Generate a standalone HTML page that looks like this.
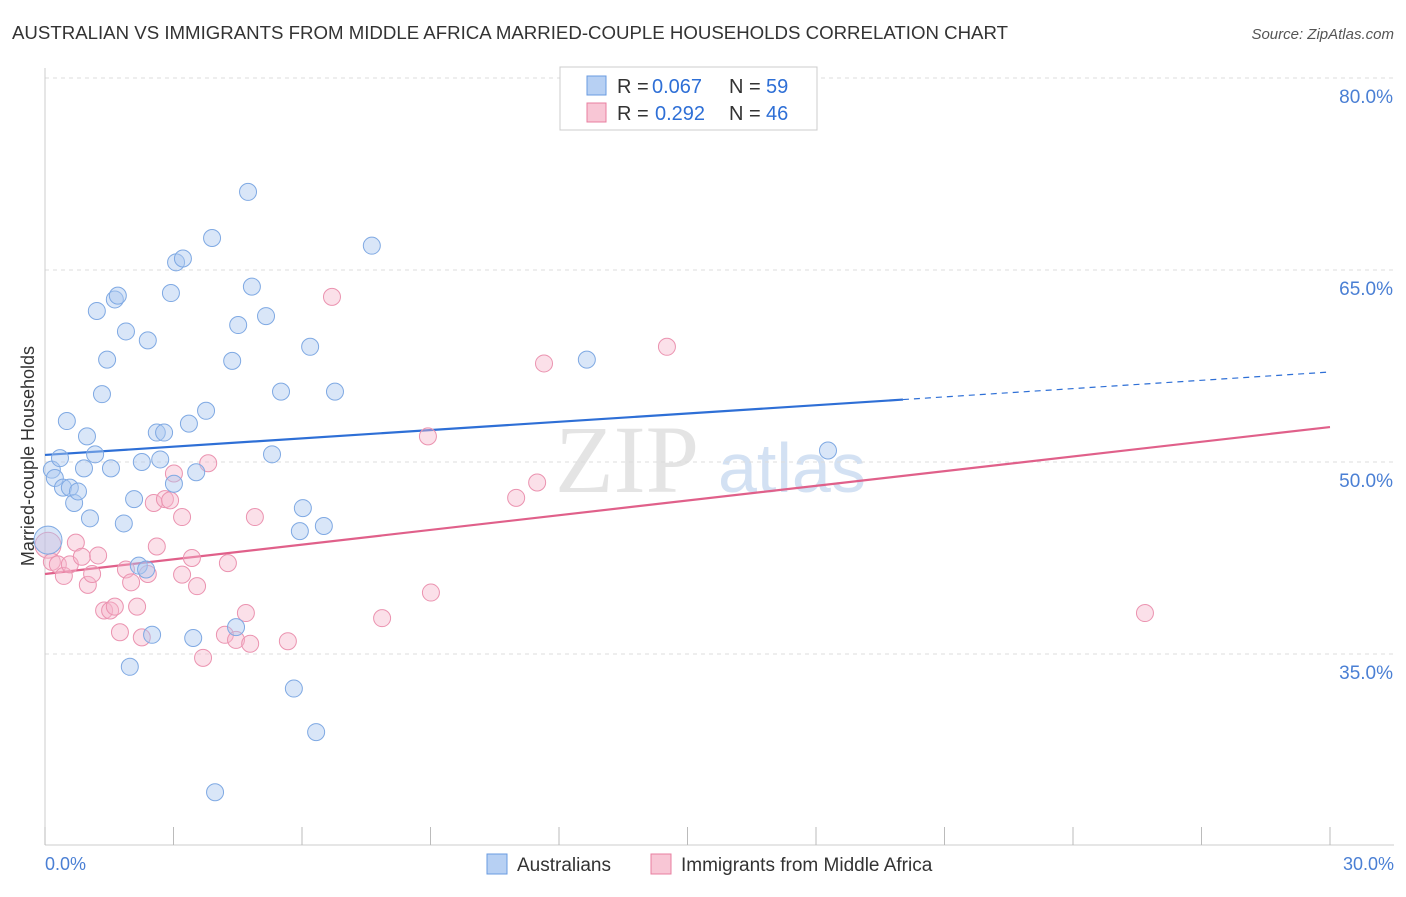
<!DOCTYPE html>
<html><head><meta charset="utf-8"><style>
body{margin:0;background:#fff;font-family:"Liberation Sans",sans-serif}
</style></head><body>
<svg width="1406" height="892" xmlns="http://www.w3.org/2000/svg" style="font-family:'Liberation Sans',sans-serif">
<text x="12" y="39" font-size="18" fill="#333" textLength="996" lengthAdjust="spacingAndGlyphs">AUSTRALIAN VS IMMIGRANTS FROM MIDDLE AFRICA MARRIED-COUPLE HOUSEHOLDS CORRELATION CHART</text>
<text x="1394" y="39" font-size="15" fill="#555" text-anchor="end" font-style="italic">Source: ZipAtlas.com</text>
<g><text x="555" y="492" font-size="96" fill="#e4e4e4" font-family="Liberation Serif">ZIP</text><text x="718" y="492" font-size="70" fill="#d3e1f3">atlas</text></g>
<g id="grid"></g>
<line x1="45" y1="68" x2="45" y2="845" stroke="#ccc"/>
<line x1="45" y1="845" x2="1394" y2="845" stroke="#ccc"/>
<g id="ticks"></g>
<text x="34" y="456" font-size="18" fill="#333" text-anchor="middle" transform="rotate(-90 34 456)">Married-couple Households</text>
<text x="45" y="870" font-size="18" fill="#4a7fd4">0.0%</text>
<text x="1394" y="870" font-size="18" fill="#4a7fd4" text-anchor="end">30.0%</text>
<g id="lines"></g>
<g id="pts"></g>
<g>
<rect x="560" y="67" width="257" height="63" fill="#fff" stroke="#ccc"/>
<rect x="587" y="76" width="19" height="19" fill="#b7d0f3" stroke="#6a9be0"/>
<text x="617" y="93" font-size="20" fill="#333">R =</text><text x="652" y="93" font-size="20" fill="#2e6fd6">0.067</text>
<text x="729" y="93" font-size="20" fill="#333">N =</text><text x="766" y="93" font-size="20" fill="#2e6fd6">59</text>
<rect x="587" y="103" width="19" height="19" fill="#f8c6d5" stroke="#e87fa0"/>
<text x="617" y="120" font-size="20" fill="#333">R =</text><text x="655" y="120" font-size="20" fill="#2e6fd6">0.292</text>
<text x="729" y="120" font-size="20" fill="#333">N =</text><text x="766" y="120" font-size="20" fill="#2e6fd6">46</text>
</g>
<g>
<rect x="487" y="854" width="20" height="20" fill="#b7d0f3" stroke="#6a9be0"/>
<text x="517" y="871" font-size="19" fill="#333">Australians</text>
<rect x="651" y="854" width="20" height="20" fill="#f8c6d5" stroke="#e87fa0"/>
<text x="681" y="871" font-size="19" fill="#333">Immigrants from Middle Africa</text>
</g>
</svg>
<script>
const yTicks=[80,65,50,35];
const xTickVals=[0,3,6,9,12,15,18,21,24,27,30];
const blueX=[0.07,0.16,0.23,0.35,0.42,0.51,0.58,0.68,0.77,0.91,0.98,1.05,1.17,1.21,1.33,1.45,1.54,1.63,1.70,1.84,1.89,1.98,2.08,2.19,2.26,2.36,2.40,2.50,2.61,2.69,2.78,2.94,3.01,3.06,3.22,3.36,3.46,3.53,3.76,3.90,3.97,4.37,4.46,4.51,4.74,4.83,5.16,5.30,5.51,5.81,5.95,6.02,6.19,6.33,6.51,6.77,7.63,12.65,18.28];
const blueY=[43.9,49.4,48.75,50.3,48.0,53.2,48.0,46.8,47.7,49.5,52.0,45.6,50.6,61.8,55.3,58.0,49.5,62.7,63.0,45.2,60.2,34.0,47.1,41.9,50.0,41.6,59.5,36.5,52.3,50.2,52.3,63.2,48.3,65.6,65.9,53.0,36.25,49.2,54.0,67.5,24.2,57.9,37.1,60.7,71.1,63.7,61.4,50.6,55.5,32.3,44.6,46.4,59.0,28.9,45.0,55.5,66.9,58.0,50.9];
const pinkX=[0.07,0.16,0.30,0.44,0.58,0.72,0.86,1.00,1.10,1.24,1.38,1.52,1.63,1.75,1.89,2.01,2.15,2.26,2.40,2.54,2.61,2.80,2.92,3.01,3.20,3.20,3.43,3.55,3.69,3.81,4.20,4.27,4.46,4.69,4.79,4.90,5.67,6.70,7.87,8.94,9.01,11.0,11.49,11.65,14.52,25.68];
const pinkY=[43.5,42.2,42.0,41.1,42.0,43.7,42.6,40.4,41.25,42.7,38.4,38.4,38.7,36.7,41.6,40.6,38.7,36.3,41.25,46.8,43.4,47.1,47.0,49.1,45.7,41.2,42.5,40.3,34.7,49.9,36.5,42.1,36.1,38.2,35.8,45.7,36.0,62.9,37.8,52.0,39.8,47.2,48.4,57.7,59.0,38.2];
const blueTrend=[50.55,57.03],blueSolidEnd=20.03;
const pinkTrend=[41.25,52.73];
const X=v=>45+v*42.833, Y=v=>78+(80-v)*12.8;
const NS="http://www.w3.org/2000/svg";
function mk(t,p,a){const e=document.createElementNS(NS,t);for(const k in a)e.setAttribute(k,a[k]);p.appendChild(e);return e;}
const grid=document.getElementById('grid'),ticks=document.getElementById('ticks');
yTicks.forEach(v=>{
 const l=mk('line',grid,{x1:45,x2:1394,y1:Y(v),y2:Y(v),stroke:'#ddd','stroke-dasharray':'4,4'});
 
 
 const t=mk('text',grid,{x:1393,y:Y(v)+25,'font-size':19,fill:'#4a7fd4','text-anchor':'end'});t.textContent=v.toFixed(1)+'%';
 
 
});
xTickVals.forEach(v=>{
 const l=mk('line',ticks,{x1:X(v),x2:X(v),y1:827,y2:845,stroke:'#bbb'});
 
 
});
const lines=document.getElementById('lines');
let e=mk('line',lines,{x1:X(0),y1:Y(blueTrend[0]),x2:X(blueSolidEnd),y2:Y(blueTrend[0]+(blueTrend[1]-blueTrend[0])*blueSolidEnd/30),stroke:'#2e6fd6','stroke-width':2.2});


e=mk('line',lines,{x1:X(blueSolidEnd),y1:Y(blueTrend[0]+(blueTrend[1]-blueTrend[0])*blueSolidEnd/30),x2:X(30),y2:Y(blueTrend[1]),stroke:'#2e6fd6','stroke-width':1.2,'stroke-dasharray':'6,5'});


e=mk('line',lines,{x1:X(0),y1:Y(pinkTrend[0]),x2:X(30),y2:Y(pinkTrend[1]),stroke:'#e0608a','stroke-width':2.2});


const pts=document.getElementById('pts');
pinkX.forEach((x,i)=>{
 const c=mk('circle',pts,{cx:X(x),cy:Y(pinkY[i]),r:i==0?13:8.5,fill:'rgba(246,180,202,0.42)',stroke:'#eb93b0','stroke-width':1});
 
 
});
blueX.forEach((x,i)=>{
 const c=mk('circle',pts,{cx:X(x),cy:Y(blueY[i]),r:i==0?14:8.5,fill:'rgba(170,200,240,0.45)',stroke:'#7fa9e3','stroke-width':1});
 
 
});
</script>
</body></html>
